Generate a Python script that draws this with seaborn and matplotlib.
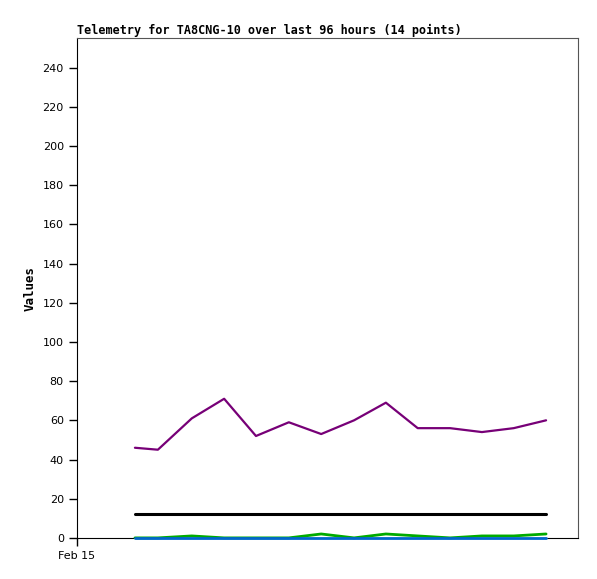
import matplotlib
matplotlib.use("Agg")
import matplotlib.pyplot as plt
import seaborn as sns
import pandas as pd

# hours since Feb 15 00:00
hours = [11.1, 15.5, 22.0, 28.2, 34.3, 40.6, 46.8, 53.1, 59.2, 65.3, 71.5, 77.6, 83.7, 89.9]
purple_vals = [46, 45, 61, 71, 52, 59, 53, 60, 69, 56, 56, 54, 56, 60]
black_vals = [12, 12, 12, 12, 12, 12, 12, 12, 12, 12, 12, 12, 12, 12]
green_vals = [0, 0, 1, 0, 0, 0, 2, 0, 2, 1, 0, 1, 1, 2]
blue_vals = [0, 0, 0, 0, 0, 0, 0, 0, 0, 0, 0, 0, 0, 0]
yticks = [0, 20, 40, 60, 80, 100, 120, 140, 160, 180, 200, 220, 240]

df = pd.DataFrame({"hours": hours, "purple": purple_vals, "black": black_vals,
                   "green": green_vals, "blue": blue_vals})

sns.set_style("white")
plt.rcParams["text.color"] = "black"
plt.rcParams["axes.labelcolor"] = "black"

fig = plt.figure(figsize=(5.97, 5.79), dpi=100)
ax = fig.add_axes([0.129, 0.071, 0.839, 0.863])

sns.lineplot(data=df, x="hours", y="green", color="#00aa00", linewidth=2, ax=ax,
             clip_on=False, zorder=3)
sns.lineplot(data=df, x="hours", y="blue", color="#0066cc", linewidth=2, ax=ax,
             clip_on=False, zorder=4)
sns.lineplot(data=df, x="hours", y="black", color="black", linewidth=2.2, ax=ax, zorder=5)
sns.lineplot(data=df, x="hours", y="purple", color="#770077", linewidth=1.6, ax=ax, zorder=6)

ax.set_xlim(0, 96)
ax.set_ylim(0, 255)
ax.set_xticks([0])
ax.set_xticklabels(["Feb 15"])
ax.set_yticks(yticks)
ax.tick_params(axis="both", direction="out", length=6, width=1, labelsize=8,
               colors="black", labelcolor="black", left=True, bottom=True)
ax.set_xlabel("")
ax.set_ylabel("Values", fontsize=9, fontweight="bold", family="DejaVu Sans Mono")
for side in ["left", "bottom"]:
    ax.spines[side].set_color("black")
for side in ["top", "right"]:
    ax.spines[side].set_color("#555555")
ax.set_title("Telemetry for TA8CNG-10 over last 96 hours (14 points)", loc="left",
             fontsize=8.5, fontweight="bold", family="DejaVu Sans Mono", pad=3,
             color="black")

fig.savefig("out.png", dpi=100)
